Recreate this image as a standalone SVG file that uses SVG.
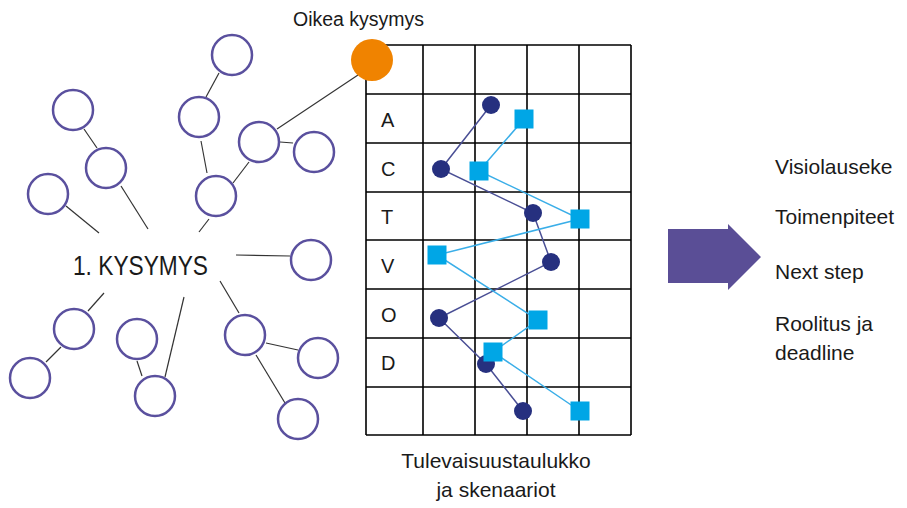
<svg xmlns="http://www.w3.org/2000/svg" width="907" height="508" viewBox="0 0 907 508">
<style>
.n{fill:#fff;stroke:#5a509e;stroke-width:2.5}
.l{stroke:#333;stroke-width:1.2;fill:none}
.g{stroke:#000;stroke-width:1.6;fill:none}
.t{font-family:"Liberation Sans",Arial,sans-serif;fill:#1a1a1a}
.dl{stroke:#4a4f95;stroke-width:1.5;fill:none}
.bl{stroke:#3aaee8;stroke-width:1.5;fill:none}
.d{fill:#26307f}
.s{fill:#00a6e6}
</style>
<rect width="907" height="508" fill="#fff"/>
<g id="connectors">
<line class="l" x1="219" y1="73" x2="206" y2="97"/>
<line class="l" x1="84" y1="129" x2="97" y2="148"/>
<line class="l" x1="66" y1="206" x2="99" y2="233"/>
<line class="l" x1="121" y1="186" x2="148" y2="229"/>
<line class="l" x1="201" y1="141" x2="207" y2="173"/>
<line class="l" x1="233" y1="183" x2="249" y2="162"/>
<line class="l" x1="209" y1="219" x2="199" y2="232"/>
<line class="l" x1="280" y1="142" x2="293" y2="143"/>
<line class="l" x1="277" y1="129" x2="358" y2="75"/>
<line class="l" x1="236" y1="255" x2="290" y2="256"/>
<line class="l" x1="104" y1="293" x2="88" y2="311"/>
<line class="l" x1="61" y1="347" x2="46" y2="362"/>
<line class="l" x1="137" y1="361" x2="142" y2="376"/>
<line class="l" x1="184" y1="297" x2="165" y2="377"/>
<line class="l" x1="220" y1="281" x2="239" y2="313"/>
<line class="l" x1="266" y1="343" x2="298" y2="350"/>
<line class="l" x1="256" y1="355" x2="285" y2="403"/>
</g>
<g id="nodes">
<circle id="c1" class="n" cx="232" cy="55" r="20"/>
<circle id="c2" class="n" cx="73" cy="110" r="20"/>
<circle id="c3" class="n" cx="106" cy="168" r="20"/>
<circle id="c4" class="n" cx="48" cy="194" r="20"/>
<circle id="c5" class="n" cx="199" cy="117" r="20"/>
<circle id="c6" class="n" cx="259" cy="142" r="20"/>
<circle id="c7" class="n" cx="314" cy="152" r="20"/>
<circle id="c8" class="n" cx="216" cy="196" r="20"/>
<circle id="c9" class="n" cx="311" cy="260" r="20"/>
<circle id="c10" class="n" cx="74" cy="329" r="20"/>
<circle id="c11" class="n" cx="30" cy="378" r="20"/>
<circle id="c12" class="n" cx="137" cy="339" r="20"/>
<circle id="c13" class="n" cx="155" cy="396" r="20"/>
<circle id="c14" class="n" cx="245" cy="335" r="20"/>
<circle id="c15" class="n" cx="318" cy="358" r="20"/>
<circle id="c16" class="n" cx="298" cy="419" r="20"/>
<g id="kysymys"><text class="t" x="73" y="275" font-size="27" textLength="135" lengthAdjust="spacingAndGlyphs">1. KYSYMYS</text></g>
</g>
<g id="table">
<path class="g" d="M366 45H631M366 94H631M366 143H631M366 192H631M366 240H631M366 289H631M366 338H631M366 387H631M366 435H631M366 45V435M423 45V435M475 45V435M527 45V435M579 45V435M631 45V435"/>
<g class="t" font-size="20">
<text x="381" y="127">A</text>
<text x="381" y="176">C</text>
<text x="381" y="224">T</text>
<text x="381" y="273">V</text>
<text x="381" y="322">O</text>
<text x="381" y="370">D</text>
</g>
<polyline class="dl" points="491,105 441,169 533,213 551,262 439,318 486,364 523,411"/>
<polyline class="bl" points="524,119 479,171 580,219 437,255 538,320 493,352 580,411"/>
<g>
<circle class="d" cx="491" cy="105" r="9"/>
<circle class="d" cx="441" cy="169" r="9"/>
<circle class="d" cx="533" cy="213" r="9"/>
<circle class="d" cx="551" cy="262" r="9"/>
<circle class="d" cx="439" cy="318" r="9"/>
<circle class="d" cx="486" cy="364" r="9"/>
<circle class="d" cx="523" cy="411" r="9"/>
</g>
<g>
<rect class="s" x="514.5" y="109.5" width="19" height="19"/>
<rect class="s" x="469.5" y="161.5" width="19" height="19"/>
<rect class="s" x="570.5" y="209.5" width="19" height="19"/>
<rect class="s" x="427.5" y="245.5" width="19" height="19"/>
<rect class="s" x="528.5" y="310.5" width="19" height="19"/>
<rect class="s" x="483.5" y="342.5" width="19" height="19"/>
<rect class="s" x="570.5" y="401.5" width="19" height="19"/>
</g>
<text class="t" x="496" y="468" font-size="21" text-anchor="middle">Tulevaisuustaulukko</text>
<text class="t" x="496" y="497" font-size="21" text-anchor="middle">ja skenaariot</text>
</g>
<g id="oikea">
<circle cx="372" cy="60" r="21" fill="#f08300"/>
<text class="t" x="293" y="26" font-size="19.5">Oikea kysymys</text>
</g>
<g id="arrow">
<polygon points="668,229 728,229 728,224 761,257 728,290 728,283 668,283" fill="#5a4e96"/>
</g>
<g id="list" class="t" font-size="21">
<text x="775" y="174">Visiolauseke</text>
<text x="775" y="224">Toimenpiteet</text>
<text x="775" y="279">Next step</text>
<text x="775" y="331">Roolitus ja</text>
<text x="775" y="360">deadline</text>
</g>
</svg>
